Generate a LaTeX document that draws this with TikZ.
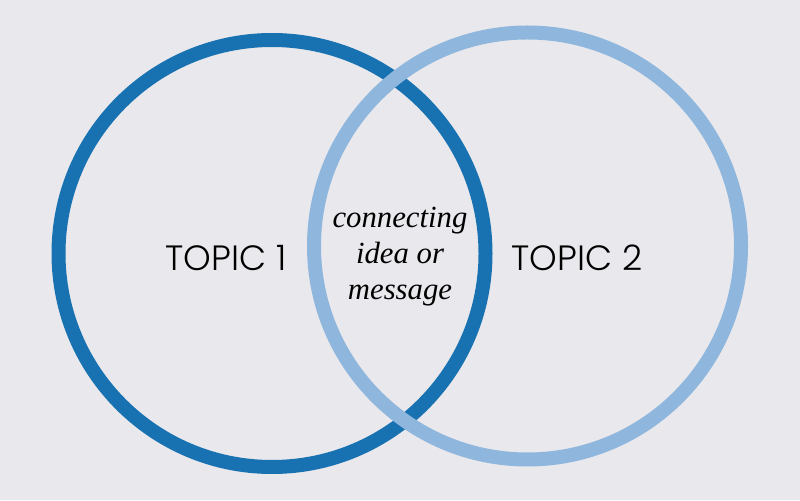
\documentclass[tikz,border=0pt]{standalone}
\usepackage{fontspec}
\setmainfont{Liberation Serif}
\newfontfamily\topicfont{Poppins Light}
\definecolor{bgGray}{HTML}{E9E8EC}
\definecolor{darkBlue}{HTML}{1872B1}
\definecolor{lightBlue}{HTML}{8FB7DE}
\tikzset{
  ring/.style={line width=0.28cm},
  topic/.style={font=\topicfont\fontsize{20}{24}\selectfont},
  middle/.style={align=center, font=\itshape\fontsize{17.5}{20.5}\selectfont}
}
\begin{document}
\begin{tikzpicture}[x=0.02cm, y=0.02cm]
    \fill[bgGray] (0,0) rectangle (800,500);
    \useasboundingbox (0,0) rectangle (800,500);
    % the two circles, light one on top
    \draw[ring, darkBlue] (272,246.5) circle (213.5);
    \draw[ring, lightBlue] (527.5,254) circle (213.5);
    \node[topic] (topicA) at (226,242) {TOPIC 1};
    \node[topic] (topicB) at (577,242) {TOPIC 2};
    \node[middle] (link) at (400,243) {connecting\\idea or\\message};
\end{tikzpicture}
\end{document}
